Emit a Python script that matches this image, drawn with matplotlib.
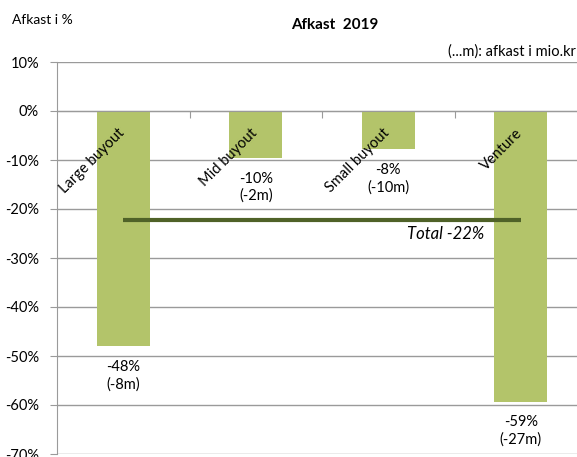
import numpy as np
import matplotlib.pyplot as plt

plt.rcParams['font.family'] = ['Lato', 'DejaVu Sans']

# data
categories = ['Large buyout', 'Mid buyout', 'Small buyout', 'Venture']
returns_pct = [-48, -9.6, -7.8, -59.3]
pct_labels = ['-48%', '-10%', '-8%', '-59%']
mio_labels = ['(-8m)', '(-2m)', '(-10m)', '(-27m)']
total_pct = -22.3
total_label = 'Total -22%'
yticks = [10, 0, -10, -20, -30, -40, -50, -60, -70]

bar_color = '#b3c46a'
line_color = '#4f6228'
grid_color = '#9a9a9a'

fig = plt.figure(figsize=(5.77, 4.57), dpi=100)
# plot area: left axis at x=57px, 10% at y=62px, -70% at y=454px
ax = fig.add_axes([57 / 577, 1 - 454 / 457, 1 - 57 / 577, (454 - 62) / 457])

x = np.arange(len(categories))
ax.bar(x, returns_pct, width=0.4, color=bar_color, zorder=2)

ax.set_ylim(-70, 10)
ax.set_xlim(-0.5, -0.5 + (577 - 57) / 132.5)
ax.set_yticks(yticks)
ax.set_yticklabels([f'{t}%' for t in yticks], fontsize=10.5)
ax.yaxis.grid(True, color=grid_color, linewidth=1)
ax.set_axisbelow(True)
ax.tick_params(axis='y', length=5, color=grid_color, pad=8)

# category axis at 0
ax.spines['bottom'].set_position(('data', 0))
ax.spines['bottom'].set_color(grid_color)
ax.spines['left'].set_color(grid_color)
ax.spines['top'].set_visible(False)
ax.spines['right'].set_visible(False)
ax.set_xticks(x[:-1] + 0.5)
ax.set_xticklabels([])
ax.tick_params(axis='x', length=5, color=grid_color, direction='out')

# category names, rotated, inside the bars
for xi, name in zip(x, categories):
    ax.annotate(name, (xi, 0), xytext=(3, -11), textcoords='offset points',
                rotation=45, ha='right', va='top', fontsize=10.5)

# value labels under bars
for xi, v, p, m in zip(x, returns_pct, pct_labels, mio_labels):
    ax.annotate(f'{p}\n{m}', (xi, v), xytext=(0, -10), textcoords='offset points',
                ha='center', va='top', fontsize=10.5, linespacing=1.25)

# total line
ax.plot([x[0], x[-1]], [total_pct, total_pct], color=line_color, linewidth=3,
        solid_capstyle='butt', zorder=3)
ax.annotate(total_label, (x[-1], total_pct), xytext=(-26, -10),
            textcoords='offset points', ha='right', va='center',
            fontsize=12, style='italic')

fig.text(335 / 577, 1 - 25 / 457, 'Afkast  2019', ha='center', va='center',
         fontsize=11, fontweight='bold')
fig.text(12 / 577, 1 - 20 / 457, 'Afkast i %', ha='left', va='center', fontsize=10)
fig.text(576 / 577, 1 - 52 / 457, '(...m): afkast i mio.kr', ha='right',
         va='center', fontsize=10.5)

fig.savefig('out.png', dpi=100)
